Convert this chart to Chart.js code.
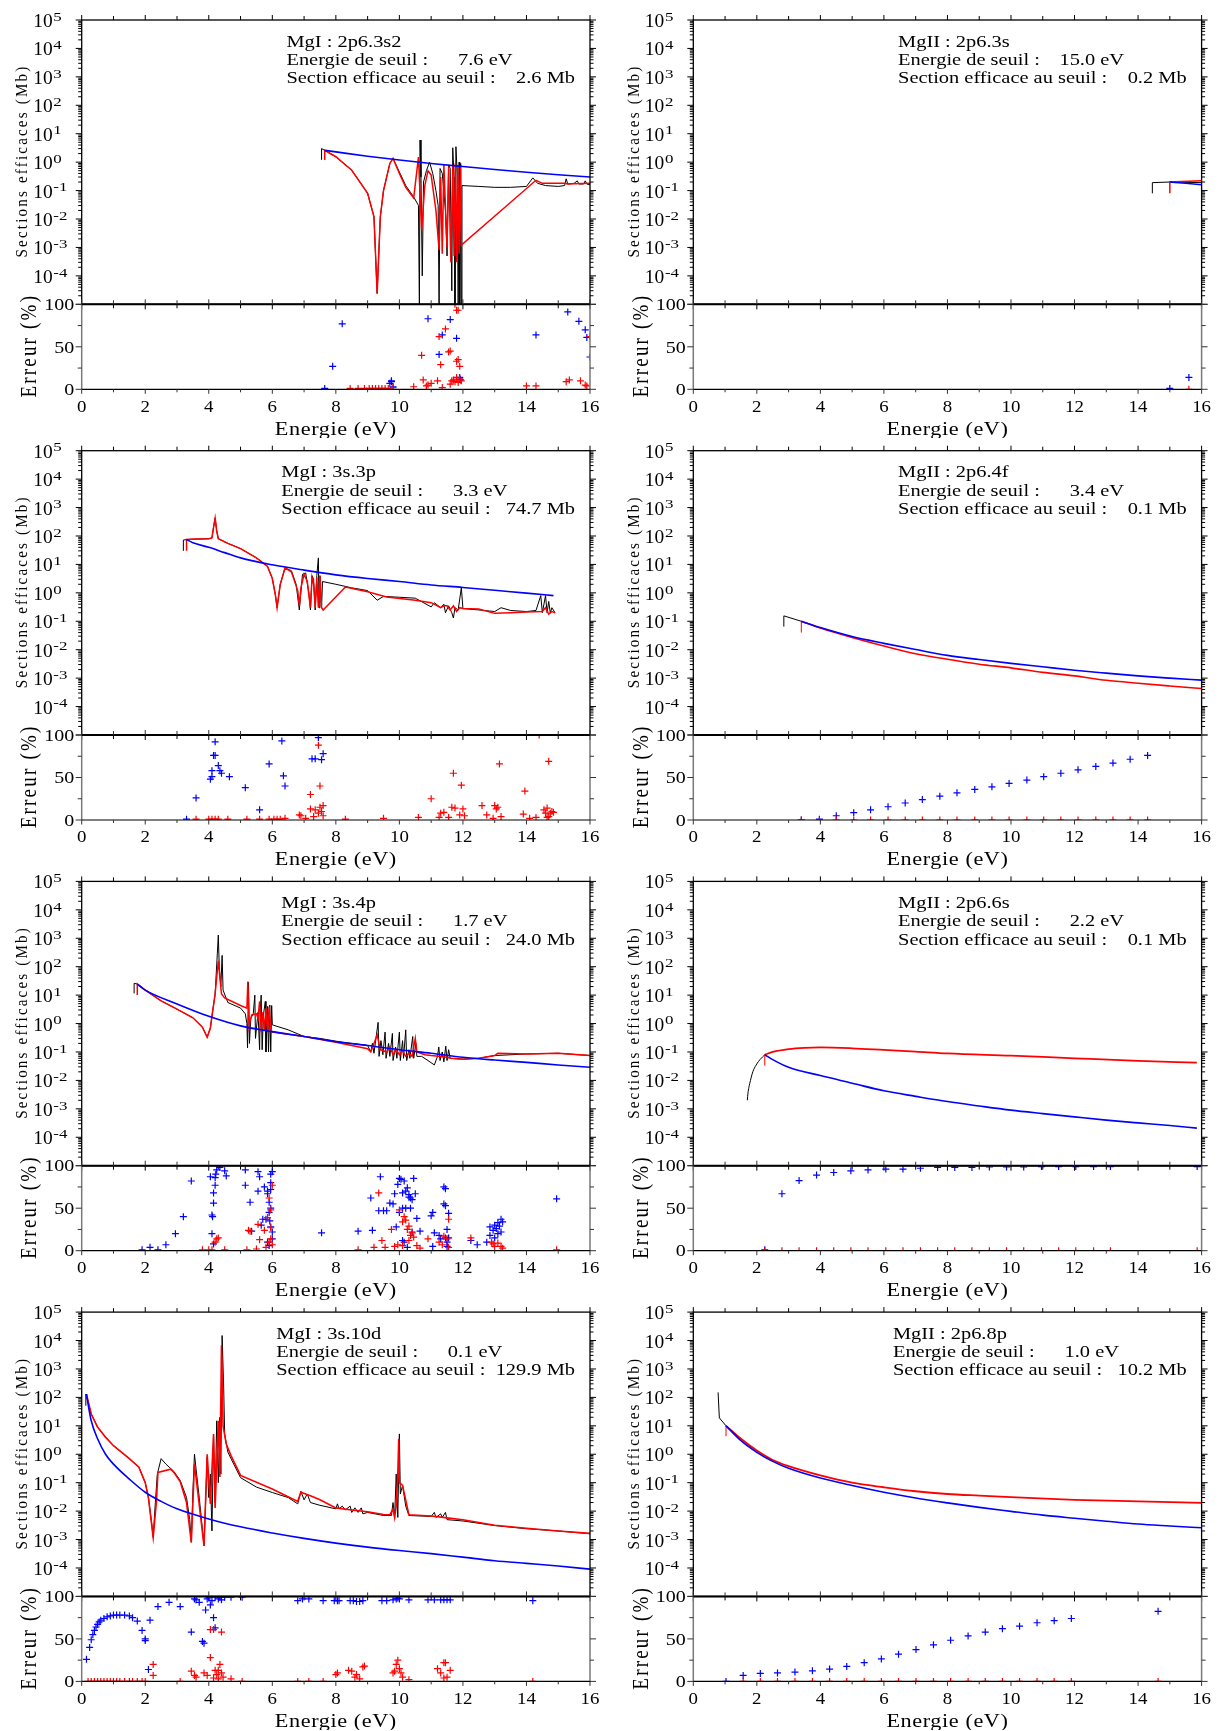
<!DOCTYPE html>
<html>
<head>
<meta charset="utf-8">
<title>Sections efficaces de photoionisation Mg I / Mg II</title>
<script src="https://cdn.jsdelivr.net/npm/chart.js@4.4.1/dist/chart.umd.min.js"></script>
<style>
  html, body { margin: 0; background: #fff; }
  #page { position: relative; width: 1222px; height: 1731px; overflow: hidden; }
  canvas { position: absolute; }
</style>
</head>
<body>
<div id="page"></div>
<script>
// ---- panel headers ----
const panelLabels = ["MgI : 2p6.3s2", "MgII : 2p6.3s", "MgI : 3s.3p", "MgII : 2p6.4f",
                     "MgI : 3s.4p", "MgII : 2p6.6s", "MgI : 3s.10d", "MgII : 2p6.8p"];
const thresholdEnergies = [7.6, 15.0, 3.3, 3.4, 1.7, 2.2, 0.1, 1.0];   // eV
const thresholdSections = [2.6, 0.2, 74.7, 0.1, 24.0, 0.1, 129.9, 10.2]; // Mb

// ---- axis ticks ----
const energyTicks = [0, 2, 4, 6, 8, 10, 12, 14, 16];
const decadeExponents = [5, 4, 3, 2, 1, 0, -1, -2, -3, -4];
const errorTicks = [0, 50, 100];

// ---- MgI 2p6.3s2 ----
const p1Black = [[7.55,1.2],[7.55,3.0],[7.65,2.6],[8.0,1.55],[8.5,0.52],[9.0,0.08],[9.2,0.012],[9.3,2.4e-5],[9.4,0.012],[9.5,0.1],[9.7,0.9],[9.8,1.35],[10.0,0.45],[10.2,0.15],[10.45,0.06],[10.6,0.03],[10.63,6e-6],[10.65,6.0],[10.68,0.3],[10.72,1e-4],[10.76,0.2],[10.85,0.5],[10.95,1.0],[11.05,0.4],[11.15,0.1],[11.22,0.03],[11.25,6e-6],[11.28,0.6],[11.35,0.4],[11.45,0.02],[11.5,5e-4],[11.55,0.8],[11.6,0.6],[11.65,3e-5],[11.68,3.2],[11.72,0.3],[11.75,6e-6],[11.78,3.5],[11.82,0.4],[11.85,6e-6],[11.88,1.0],[11.9,6e-6],[11.93,0.9],[11.95,6e-6],[11.97,0.15],[12.5,0.14],[13.0,0.13],[13.5,0.13],[14.0,0.14],[14.2,0.28],[14.35,0.18],[14.6,0.15],[15.0,0.14],[15.2,0.15],[15.25,0.26],[15.3,0.17],[15.5,0.18],[15.6,0.22],[15.65,0.17],[15.8,0.17],[15.85,0.22],[15.9,0.17],[16.0,0.16]];
const p1Red = [[7.65,1.2],[7.65,2.6],[8.0,1.55],[8.5,0.52],[9.0,0.08],[9.2,0.012],[9.3,2.4e-5],[9.4,0.012],[9.5,0.1],[9.7,0.9],[9.8,1.35],[10.0,0.4],[10.2,0.13],[10.45,0.055],[10.6,1.5],[10.7,4e-3],[10.8,0.15],[10.9,0.5],[11.0,0.35],[11.15,0.02],[11.25,8e-4],[11.3,0.3],[11.35,6e-4],[11.4,0.8],[11.5,1e-3],[11.55,0.7],[11.62,3e-4],[11.68,0.8],[11.72,5e-4],[11.76,0.9],[11.8,3e-4],[11.84,0.8],[11.88,6e-4],[11.92,0.7],[11.95,1.2e-3],[14.3,0.23],[14.5,0.18],[15.2,0.18],[15.3,0.17],[16.0,0.18]];
const p1Blue = [[7.65,2.6],[8,2.3],[9,1.62],[10,1.19],[11,0.9],[12,0.7],[13,0.55],[14,0.44],[15,0.36],[16,0.3]];
const p1ErrBlue = [[7.65,1],[7.9,27],[8.2,77],[9.7,7],[9.75,9],[9.75,10],[9.8,3],[10.9,83],[11.25,41],[11.35,64],[11.6,82],[11.8,60],[11.9,12],[11.9,14],[11.92,11],[14.3,64],[15.3,91],[15.65,80],[15.85,70],[15.9,61],[16.0,38]];
const p1ErrRed = [[8.45,1],[8.7,1],[8.9,1],[9.05,1],[9.15,1],[9.25,1],[9.35,1],[9.45,1],[9.55,1],[9.65,1],[9.8,2],[10.45,3],[10.7,40],[10.75,11],[10.85,4],[10.9,5],[11.0,7],[11.2,10],[11.25,62],[11.3,29],[11.35,2],[11.45,71],[11.55,44],[11.6,45],[11.65,10],[11.7,11],[11.75,100],[11.8,33],[11.8,93],[11.85,93],[11.85,35],[11.9,27],[11.85,8],[11.9,12],[11.95,10],[11.6,6],[11.8,14],[11.75,9],[14.0,4],[14.3,4],[15.25,9],[15.35,11],[15.7,10],[15.85,5],[15.9,4],[16.0,62]];

// ---- MgII 2p6.3s ----
const p2Black = [[14.45,0.08],[14.45,0.19],[15.0,0.2],[16.0,0.19]];
const p2Red = [[15.0,0.08],[15.0,0.2],[16.0,0.22]];
const p2Blue = [[15.0,0.2],[15.5,0.18],[16.0,0.16]];
const p2ErrBlue = [[15.0,1],[15.6,14]];
const p2ErrRed = [[15.6,0]];

// ---- MgI 3s.3p ----
const p3Black = [[3.2,30],[3.2,72],[3.3,75],[3.6,78],[4.0,80],[4.1,85],[4.15,200],[4.2,430],[4.25,150],[4.3,80],[4.6,55],[5.0,36],[5.5,17],[5.85,8.5],[6.0,3.2],[6.1,0.8],[6.15,0.3],[6.25,2.0],[6.4,7.5],[6.6,6],[6.75,2],[6.85,0.25],[6.95,4.5],[7.05,5],[7.15,1.0],[7.2,0.25],[7.25,4],[7.3,3],[7.35,0.25],[7.4,4],[7.45,17],[7.47,0.3],[7.5,4],[7.55,0.3],[7.58,2.5],[8.0,2.0],[8.5,1.5],[9.0,1.2],[9.3,0.55],[9.5,0.75],[10.0,0.7],[10.5,0.65],[11.0,0.32],[11.1,0.45],[11.3,0.3],[11.4,0.4],[11.45,0.2],[11.55,0.35],[11.65,0.2],[11.7,0.13],[11.75,0.3],[11.85,0.25],[11.95,1.5],[12.0,0.28],[12.5,0.25],[13.0,0.22],[13.2,0.3],[13.5,0.24],[14.0,0.22],[14.3,0.24],[14.45,0.8],[14.5,0.2],[14.6,0.8],[14.65,0.2],[14.7,0.5],[14.75,0.2],[14.8,0.3],[14.9,0.2]];
const p3Red = [[3.3,30],[3.3,75],[3.6,78],[4.0,80],[4.1,85],[4.15,200],[4.2,430],[4.25,150],[4.3,80],[4.6,55],[5.0,36],[5.5,17],[5.85,8.5],[6.0,3.2],[6.1,0.8],[6.15,0.3],[6.25,2.0],[6.4,7.5],[6.6,5.5],[6.8,1.2],[6.85,0.35],[6.9,1.5],[7.0,4.5],[7.1,2.5],[7.2,0.3],[7.25,3.5],[7.3,2],[7.35,0.3],[7.4,3.5],[7.45,0.3],[7.5,4],[7.55,0.3],[7.6,0.25],[8.3,1.6],[9.0,1.1],[9.6,0.72],[10.5,0.55],[11.0,0.45],[11.3,0.3],[11.4,0.35],[11.5,0.35],[11.6,0.25],[11.7,0.35],[11.8,0.22],[11.9,0.3],[12.0,0.28],[12.5,0.27],[13.0,0.19],[13.5,0.2],[14.0,0.21],[14.5,0.22],[14.6,0.3],[14.7,0.18],[14.8,0.22],[14.9,0.2]];
const p3Blue = [[3.3,75],[3.5,58],[4.0,40],[4.5,26],[5.0,17],[6.0,9.7],[7.0,6.3],[8.0,4.3],[9.0,3.2],[10.0,2.5],[11.0,1.9],[12.0,1.55],[13.0,1.23],[14.0,0.98],[14.85,0.8]];
const p3ErrBlue = [[3.3,1],[3.6,26],[4.05,48],[4.1,51],[4.1,58],[4.15,76],[4.2,76],[4.2,92],[4.3,64],[4.35,58],[4.4,55],[4.65,51],[5.15,38],[5.6,12],[5.9,66],[6.3,93],[6.35,52],[6.4,40],[7.25,72],[7.35,72],[7.45,97],[7.55,71],[7.6,78]];
const p3ErrRed = [[3.6,1],[4.0,1],[4.1,1],[4.2,1],[4.3,1],[4.6,1],[5.2,1],[5.6,1],[5.9,1],[6.05,1],[6.15,1],[6.25,1],[6.4,2],[6.85,6],[6.9,5],[7.05,2],[7.2,30],[7.2,13],[7.3,4],[7.35,12],[7.45,88],[7.45,8],[7.5,40],[7.5,15],[7.55,10],[7.6,17],[7.6,5],[8.3,1],[9.5,2],[10.6,3],[11.0,25],[11.25,3],[11.3,8],[11.4,9],[11.55,3],[11.65,15],[11.7,55],[11.75,14],[11.9,6],[11.95,41],[12.0,13],[12.05,5],[12.6,17],[12.75,6],[12.95,2],[13.0,17],[13.05,13],[13.1,15],[13.15,66],[13.2,4],[13.9,7],[13.95,34],[14.1,2],[14.3,3],[14.4,100],[14.55,12],[14.6,8],[14.65,14],[14.65,3],[14.7,69],[14.7,4],[14.75,8],[14.8,10],[14.85,9]];

// ---- MgII 2p6.4f ----
const p4Black = [[2.85,0.065],[2.85,0.155],[3.4,0.1]];
const p4RedTick = [[3.4,0.04],[3.4,0.1]];
const p4Red = [[3.4,0.1],[4,0.058],[5,0.027],[6,0.0135],[7,0.0072],[8,0.0046],[9,0.0031],[10,0.0023],[11,0.0016],[12,0.0012],[13,8.4e-4],[14,6.6e-4],[15,5.3e-4],[16,4.3e-4]];
const p4Blue = [[3.4,0.1],[4,0.06],[5,0.029],[6,0.0167],[7,0.0101],[8,0.0063],[9,0.0045],[10,0.0033],[11,0.0025],[12,0.0019],[13,0.0015],[14,0.0012],[15,0.001],[16,8.5e-4]];
const p4ErrBlue = [[3.4,0],[3.97,1],[4.5,5],[5.05,8.6],[5.58,12],[6.13,15.6],[6.67,20],[7.21,24],[7.76,28],[8.3,32],[8.86,36],[9.4,39],[9.94,43],[10.5,47],[11.03,51],[11.57,55],[12.11,59],[12.67,63],[13.21,67],[13.75,71.5],[14.3,76]];
const p4ErrRed = [[3.4,0],[3.97,0],[4.5,0],[5.05,0],[5.58,0],[6.13,0],[6.67,0],[7.21,0],[7.76,0],[8.3,0],[8.86,0],[9.4,0],[9.94,0],[10.5,0],[11.03,0],[11.57,0],[12.11,0],[12.67,0],[13.21,0],[13.75,0],[14.3,0]];

// ---- MgI 3s.4p ----
const p5Black = [[1.65,11.5],[1.65,26],[1.75,24.5],[2.0,15],[2.5,6.3],[3.0,3.2],[3.5,1.6],[3.8,0.75],[3.95,0.33],[4.05,0.7],[4.1,1.8],[4.2,11],[4.27,300],[4.3,1300],[4.33,100],[4.38,20],[4.42,250],[4.45,15],[4.6,5.5],[5.0,3.5],[5.15,2.2],[5.2,1.0],[5.22,0.14],[5.25,28],[5.28,0.2],[5.32,1.5],[5.4,2.2],[5.45,10],[5.47,0.3],[5.55,2.5],[5.6,0.12],[5.62,3],[5.65,10],[5.68,0.12],[5.72,2],[5.78,6],[5.8,0.1],[5.85,4],[5.88,0.1],[5.92,4.5],[5.95,0.1],[5.98,4.3],[6.0,0.9],[6.5,0.6],[7.0,0.35],[7.5,0.3],[8.0,0.24],[8.5,0.2],[9.0,0.17],[9.1,0.1],[9.15,0.2],[9.2,0.09],[9.33,1.1],[9.36,0.07],[9.42,0.25],[9.48,0.08],[9.55,0.5],[9.58,0.06],[9.66,0.2],[9.7,0.07],[9.78,0.45],[9.8,0.05],[9.88,0.15],[9.92,0.06],[10.0,0.5],[10.03,0.05],[10.1,0.25],[10.13,0.06],[10.2,0.6],[10.23,0.05],[10.3,0.12],[10.33,0.06],[10.42,0.35],[10.45,0.06],[10.52,0.2],[10.55,0.07],[10.7,0.07],[10.9,0.05],[11.1,0.035],[11.2,0.07],[11.24,0.15],[11.28,0.05],[11.35,0.1],[11.4,0.045],[11.46,0.16],[11.5,0.05],[11.55,0.12],[11.6,0.06],[12.0,0.056],[12.5,0.06],[13.0,0.075],[14.0,0.085],[15.0,0.09],[16.0,0.075]];
const p5Red = [[1.75,10],[1.75,24.5],[2.0,15],[2.5,6.3],[3.0,3.2],[3.5,1.6],[3.8,0.75],[3.95,0.33],[4.05,0.7],[4.1,1.8],[4.2,11],[4.3,160],[4.4,11],[4.5,8],[5.0,4.3],[5.2,3.5],[5.23,30],[5.27,0.8],[5.3,1.2],[5.35,2.0],[5.5,2.2],[5.55,1.5],[5.6,6],[5.65,0.5],[5.7,2.5],[5.75,0.6],[5.8,3.5],[5.85,0.5],[5.9,4],[5.95,0.6],[6.0,0.5],[7.0,0.35],[8.0,0.22],[9.0,0.13],[9.1,0.1],[9.3,0.4],[9.4,0.12],[9.6,0.1],[9.7,0.15],[9.8,0.08],[9.9,0.12],[10.0,0.08],[10.1,0.11],[10.2,0.07],[10.3,0.09],[10.4,0.07],[10.5,0.3],[10.55,0.1],[10.8,0.08],[11.0,0.075],[11.3,0.07],[11.5,0.065],[11.6,0.06],[12.0,0.056],[12.5,0.06],[13.0,0.075],[13.1,0.09],[14.0,0.085],[15.0,0.09],[16.0,0.075]];
const p5Blue = [[1.75,24.5],[2,15],[3,4.9],[4,1.8],[5,0.83],[6,0.52],[7,0.35],[8,0.23],[9,0.17],[10,0.12],[11,0.09],[12,0.065],[13,0.052],[14,0.043],[15,0.035],[16,0.029]];
const p5ErrBlue = [[1.9,1],[2.15,4],[2.4,1],[2.65,7],[2.95,20],[3.2,40],[3.45,82],[4.05,87],[4.1,42],[4.12,40],[4.15,56],[4.15,68],[4.2,77],[4.2,86],[4.22,90],[4.25,95],[4.3,100],[4.35,98],[4.5,94],[4.55,88],[4.1,20],[4.15,8],[5.15,95],[5.15,77],[5.3,57],[5.35,23],[5.55,93],[5.6,87],[5.55,70],[5.65,30],[5.7,37],[5.75,75],[5.8,37],[5.85,67],[5.85,70],[5.9,45],[5.95,90],[5.95,80],[5.95,72],[6.0,93],[5.9,57],[5.95,50],[5.92,35],[5.95,28],[6.0,22],[6.0,14],[5.85,10],[5.9,6],[7.55,21],[8.7,23],[9.1,62],[9.15,24],[9.4,87],[9.35,47],[9.5,47],[9.6,47],[9.7,56],[9.8,55],[9.85,67],[9.9,28],[9.95,78],[10.0,85],[10.05,84],[10.15,82],[10.1,68],[10.2,70],[10.25,74],[10.3,63],[10.35,62],[10.35,50],[10.4,60],[10.45,85],[10.5,67],[10.2,50],[10.1,50],[10.55,38],[10.65,23],[10.3,66],[10.15,10],[10.25,4],[10.0,45],[10.1,12],[10.4,22],[11.0,41],[11.05,45],[11.1,21],[11.05,5],[11.25,18],[11.3,14],[11.4,75],[11.45,73],[11.4,55],[11.45,53],[11.55,44],[11.45,15],[11.5,10],[11.55,15],[11.5,25],[11.5,5],[12.25,12],[12.45,7],[12.75,10],[12.85,18],[12.85,28],[12.95,24],[13.0,30],[13.05,26],[13.1,33],[13.15,29],[13.2,37],[13.25,34],[13.2,22],[13.1,20],[13.0,15],[14.95,61]];
const p5ErrRed = [[3.8,1],[4.0,1],[4.1,1],[4.2,10],[4.25,14],[4.3,15],[4.5,1],[5.2,1],[5.25,24],[5.3,23],[5.5,2],[5.55,31],[5.6,13],[5.75,24],[5.8,4],[5.85,39],[5.9,62],[5.9,10],[5.95,48],[5.95,27],[5.95,14],[6.0,77],[6.0,7],[8.7,1],[9.2,4],[9.35,68],[9.45,12],[9.55,4],[9.75,25],[9.85,5],[9.95,7],[10.0,48],[10.1,34],[10.1,6],[10.15,40],[10.2,36],[10.25,25],[10.3,29],[10.3,12],[10.35,18],[10.4,21],[10.45,16],[10.55,6],[10.65,3],[10.9,14],[11.25,10],[11.35,7],[11.4,17],[11.5,14],[11.55,37],[11.55,4],[12.25,15],[12.9,10],[12.95,8],[13.0,5],[13.1,9],[13.2,5],[13.25,3],[14.95,1]];

// ---- MgII 2p6.6s ----
const p6Black = [[1.7,0.002],[1.72,0.0035],[1.75,0.0057],[1.8,0.01],[1.85,0.0166],[1.9,0.024],[2.0,0.038],[2.1,0.054],[2.25,0.08]];
const p6RedTick = [[2.25,0.033],[2.25,0.08]];
const p6Red = [[2.25,0.08],[2.5,0.1],[3.0,0.126],[3.5,0.14],[4.0,0.145],[5.0,0.135],[6.0,0.118],[7.0,0.103],[8.0,0.089],[10.0,0.074],[12.0,0.06],[14.0,0.049],[15.85,0.042]];
const p6Blue = [[2.25,0.08],[2.5,0.054],[3.0,0.029],[4.0,0.0148],[5.0,0.008],[6.0,0.0043],[7.0,0.00275],[8.0,0.0018],[9.0,0.00126],[10.0,9e-4],[11.0,6.8e-4],[12.0,5.2e-4],[13.0,4e-4],[14.0,3.2e-4],[15.0,2.6e-4],[15.85,2.1e-4]];
const p6ErrBlue = [[2.25,1],[2.79,67],[3.33,82.5],[3.88,89],[4.42,92],[4.96,94],[5.5,95],[6.06,96],[6.6,96],[7.15,97],[7.69,98],[8.23,98],[8.77,98],[9.32,98.5],[9.86,98.5],[10.4,98.5],[10.96,99],[11.5,99],[12.04,99],[12.6,99],[13.13,99],[15.86,99]];
const p6ErrRed = [[2.25,0],[2.79,0],[3.33,0],[3.88,0],[4.42,0],[4.96,0],[5.5,0],[6.06,0],[6.6,0],[7.15,0],[7.69,0],[8.23,0],[8.77,0],[9.32,0],[9.86,0],[10.4,0],[10.96,0],[11.5,0],[12.04,0],[12.6,0],[13.13,0],[15.86,0]];

// ---- MgI 3s.10d ----
const p7Black = [[0.13,51],[0.13,130],[0.3,26],[0.5,9],[0.75,4],[1.0,2],[1.5,0.7],[1.8,0.35],[2.0,0.1],[2.1,0.03],[2.2,0.004],[2.25,0.0012],[2.3,0.01],[2.38,0.2],[2.5,0.7],[2.65,0.45],[2.9,0.25],[3.1,0.12],[3.3,0.03],[3.4,0.005],[3.45,8e-4],[3.5,0.05],[3.55,1.0],[3.6,0.3],[3.7,0.03],[3.85,6e-4],[3.9,0.02],[3.95,0.8],[4.0,0.03],[4.05,0.2],[4.1,2e-3],[4.15,5],[4.2,0.02],[4.25,15],[4.3,0.1],[4.35,20],[4.38,0.2],[4.42,15000],[4.47,200],[4.5,5],[4.6,1.2],[4.7,0.7],[5.0,0.15],[5.5,0.07],[6.0,0.045],[6.5,0.03],[6.8,0.018],[6.9,0.05],[7.0,0.025],[7.1,0.04],[7.2,0.02],[7.5,0.016],[8.0,0.012],[8.05,0.018],[8.1,0.012],[8.2,0.015],[8.3,0.011],[8.45,0.015],[8.5,0.009],[8.6,0.013],[8.7,0.009],[8.8,0.013],[8.85,0.008],[9.0,0.009],[9.5,0.007],[9.75,0.007],[9.8,0.02],[9.85,0.006],[9.9,0.2],[9.95,0.006],[10.0,5.2],[10.03,0.04],[10.1,0.08],[10.2,0.015],[10.3,0.007],[11.0,0.0065],[11.1,0.009],[11.15,0.006],[11.3,0.008],[11.35,0.006],[11.45,0.009],[11.5,0.005],[12.0,0.0045],[13.0,0.0031],[14.0,0.0024],[15.0,0.002],[16.0,0.0016]];
const p7Red = [[0.15,130],[0.3,26],[0.5,9],[0.75,4],[1.0,2],[1.5,0.7],[1.8,0.35],[2.0,0.1],[2.1,0.03],[2.25,0.0012],[2.35,0.02],[2.4,0.23],[2.8,0.3],[2.9,0.23],[3.1,0.11],[3.3,0.02],[3.45,8e-4],[3.55,0.45],[3.65,0.05],[3.85,6e-4],[3.95,1.0],[4.05,0.018],[4.15,5],[4.2,0.013],[4.3,15],[4.35,0.16],[4.4,6800],[4.45,10],[4.55,2.3],[4.7,0.9],[5.0,0.18],[6.0,0.06],[6.8,0.022],[6.9,0.046],[7.2,0.035],[7.5,0.025],[8.0,0.013],[8.5,0.011],[9.0,0.0095],[9.5,0.0076],[9.7,0.0074],[9.8,0.012],[9.85,0.006],[9.9,0.015],[9.95,0.2],[9.98,3.5],[10.0,0.1],[10.1,0.08],[10.3,0.0074],[11.0,0.0067],[11.5,0.0058],[12.0,0.005],[13.0,0.0032],[14.0,0.0025],[15.0,0.002],[16.0,0.00165]];
const p7Blue = [[0.15,130],[0.2,59],[0.3,15],[0.5,3.5],[0.75,1.0],[1.0,0.45],[1.5,0.134],[2.0,0.046],[2.5,0.022],[3.0,0.012],[4.0,0.0053],[5.0,0.0028],[6.0,0.0017],[7.0,0.0011],[8.0,7.5e-4],[9.0,5.4e-4],[10.0,4.1e-4],[11.0,3.2e-4],[12.0,2.4e-4],[13.0,1.8e-4],[14.0,1.45e-4],[15.0,1.17e-4],[16.0,9.1e-5]];
const p7ErrBlue = [[0.15,26],[0.25,40],[0.3,49],[0.35,55],[0.4,60],[0.45,64],[0.5,67],[0.55,70],[0.6,72],[0.7,74],[0.8,76],[0.9,77],[1.0,78],[1.1,78],[1.2,78],[1.35,78],[1.5,77],[1.6,75],[1.75,71],[1.9,60],[2.0,50],[2.0,48],[2.1,14],[2.15,72],[2.4,88],[2.75,93],[3.1,88],[3.45,58],[3.55,97],[3.6,96],[3.7,93],[3.8,47],[3.85,45],[3.9,84],[3.95,97],[4.0,99],[4.05,90],[4.1,95],[4.15,75],[4.2,63],[4.2,99],[4.3,97],[4.35,99],[4.4,96],[4.5,99],[4.7,99],[5.05,99],[6.8,95],[6.95,97],[7.15,97],[7.6,95],[7.95,95],[8.05,95],[8.1,95],[8.45,95],[8.55,95],[8.65,94],[8.75,94],[8.85,95],[9.45,95],[9.6,95],[9.8,96],[9.9,97],[9.95,98],[10.0,97],[10.3,96],[10.9,96],[11.1,96],[11.3,96],[11.4,96],[11.5,96],[11.6,96],[14.2,95]];
const p7ErrRed = [[0.2,0],[0.3,0],[0.4,0],[0.5,0],[0.6,0],[0.7,0],[0.8,0],[0.9,0],[1.0,0],[1.1,0],[1.2,0],[1.35,0],[1.5,0],[1.6,0],[1.75,0],[1.9,0],[2.0,0],[2.25,20],[2.25,7],[3.1,0],[3.45,12],[3.55,7],[3.6,5],[3.85,10],[3.95,7],[4.05,61],[4.05,28],[4.15,61],[4.15,4],[4.2,13],[4.25,8],[4.3,13],[4.3,3],[4.35,20],[4.4,10],[4.4,58],[4.45,5],[4.7,3],[5.05,0],[6.8,0],[7.15,0],[7.6,0],[8.0,8],[8.05,10],[8.4,13],[8.5,12],[8.6,5],[8.65,8],[8.75,3],[8.85,17],[8.9,18],[9.8,10],[9.85,12],[9.9,20],[9.95,25],[10.0,15],[10.05,10],[10.1,5],[10.3,2],[11.2,15],[11.3,10],[11.4,22],[11.45,22],[11.4,4],[11.5,5],[11.6,13],[14.2,0]];

// ---- MgII 2p6.8p ----
const p8Black = [[0.78,150],[0.82,19],[1.03,10]];
const p8RedTick = [[1.03,4.3],[1.03,10]];
const p8Red = [[1.03,10],[1.5,3.5],[2,1.35],[2.5,0.63],[3,0.38],[4,0.18],[5,0.1],[6,0.069],[7,0.05],[8,0.04],[9,0.035],[10,0.031],[12,0.025],[14,0.022],[16,0.0195]];
const p8Blue = [[1.03,10],[1.5,3.0],[2,1.17],[2.5,0.56],[3,0.32],[4,0.145],[5,0.079],[6,0.046],[7,0.029],[8,0.0195],[9,0.0135],[10,0.0098],[11,0.0072],[12,0.0056],[13,0.0044],[14,0.0035],[15,0.003],[16,0.0026]];
const p8ErrBlue = [[1.03,0],[1.57,7],[2.11,9.4],[2.65,10],[3.2,11],[3.75,12.5],[4.29,14.5],[4.83,17.6],[5.38,22],[5.92,26.5],[6.46,32],[7.01,37.5],[7.56,43],[8.1,48.4],[8.65,53.5],[9.19,58],[9.73,62],[10.27,65],[10.82,69],[11.36,71.5],[11.9,74],[14.63,82.5]];
const p8ErrRed = [[1.57,0],[2.11,0],[2.65,0],[3.2,0],[3.75,0],[4.29,0],[4.83,0],[5.38,0],[5.92,0],[6.46,0],[7.01,0],[7.56,0],[8.1,0],[8.65,0],[9.19,0],[9.73,0],[10.27,0],[10.82,0],[11.36,0],[11.9,0],[14.63,0]];

// ---- layout ----
const SERIF = '"Liberation Serif", "Times New Roman", serif';
const PLOT_W = 508.3, LOG_H = 284.3, ERR_H = 85, ROW_PITCH = 430.7, FIRST_TOP = 20;
const COL_PLOT_LEFT = [81.7, 693.3];
const CANVAS_W = 610;

const BLUE = '#0000ff', RED = '#ff0000', BLACK = '#000000';

// line series per panel, first entry is drawn on top
const panelLines = [
  [[p1Blue, BLUE, 1.6, true], [p1Red, RED, 1.5, false], [p1Black, BLACK, 1, false]],
  [[p2Blue, BLUE, 1.6, true], [p2Red, RED, 1.5, false], [p2Black, BLACK, 1, false]],
  [[p3Blue, BLUE, 1.6, true], [p3Red, RED, 1.5, false], [p3Black, BLACK, 1, false]],
  [[p4Blue, BLUE, 1.6, true], [p4Red, RED, 1.6, true], [p4RedTick, RED, 1, false], [p4Black, BLACK, 1, false]],
  [[p5Blue, BLUE, 1.6, true], [p5Red, RED, 1.5, false], [p5Black, BLACK, 1, false]],
  [[p6Blue, BLUE, 1.6, true], [p6Red, RED, 1.8, true], [p6RedTick, RED, 1, false], [p6Black, BLACK, 1, true]],
  [[p7Blue, BLUE, 1.6, true], [p7Red, RED, 1.6, false], [p7Black, BLACK, 1, false]],
  [[p8Blue, BLUE, 1.6, true], [p8Red, RED, 1.8, true], [p8RedTick, RED, 1, false], [p8Black, BLACK, 1, false]]
];
const panelErrors = [
  [p1ErrRed, p1ErrBlue], [p2ErrRed, p2ErrBlue], [p3ErrRed, p3ErrBlue], [p4ErrRed, p4ErrBlue],
  [p5ErrRed, p5ErrBlue], [p6ErrRed, p6ErrBlue], [p7ErrRed, p7ErrBlue], [p8ErrRed, p8ErrBlue]
];

function stretchText(ctx, s, x, y, sx, align) {
  ctx.save();
  ctx.translate(x, y);
  ctx.scale(sx, 1);
  ctx.textAlign = align;
  ctx.fillText(s, 0, 0);
  ctx.restore();
}

function verticalText(ctx, s, x, y, sy, spacing) {
  ctx.save();
  ctx.translate(x, y);
  ctx.rotate(-Math.PI / 2);
  ctx.scale(1, sy);
  ctx.textAlign = 'center';
  ctx.textBaseline = 'middle';
  ctx.letterSpacing = spacing + 'px';
  ctx.fillText(s, spacing / 2, 0);
  ctx.restore();
}

function drawLogFrame(chart, panel) {
  const { ctx, chartArea: a } = chart;
  const x = chart.scales.x, y = chart.scales.y;
  ctx.strokeStyle = '#000';
  ctx.lineWidth = 1.3;
  ctx.strokeRect(a.left, a.top, a.right - a.left, a.bottom - a.top);

  ctx.lineWidth = 1;
  ctx.beginPath();
  for (let e = 0; e <= 16; e++) {
    const px = x.getPixelForValue(e);
    const len = e % 2 === 0 ? 5 : 4;
    ctx.moveTo(px, a.top); ctx.lineTo(px, a.top - len);
    ctx.moveTo(px, a.bottom); ctx.lineTo(px, a.bottom + len);
  }
  for (let d = -5; d <= 5; d++) {
    const py = y.getPixelForValue(Math.pow(10, d));
    ctx.moveTo(a.left - 6, py); ctx.lineTo(a.left, py);
    ctx.moveTo(a.right, py); ctx.lineTo(a.right + 6, py);
    if (d === 5) continue;
    for (let m = 2; m <= 9; m++) {
      const pm = y.getPixelForValue(m * Math.pow(10, d));
      ctx.moveTo(a.left - 3.5, pm); ctx.lineTo(a.left, pm);
      ctx.moveTo(a.right, pm); ctx.lineTo(a.right + 3.5, pm);
    }
  }
  ctx.stroke();

  ctx.fillStyle = '#000';
  ctx.textBaseline = 'alphabetic';
  decadeExponents.forEach(d => {
    const py = y.getPixelForValue(Math.pow(10, d));
    ctx.font = '18px ' + SERIF;
    stretchText(ctx, '10', a.left - 48.5, py + 7, 1.08, 'left');
    ctx.font = '13px ' + SERIF;
    stretchText(ctx, String(d), a.left - 28.4, py + 0.7, 1.3, 'left');
  });

  ctx.font = '15px ' + SERIF;
  verticalText(ctx, 'Sections efficaces (Mb)', a.left - 59.3, (a.top + a.bottom) / 2, 1.17, 2.2);

  // threshold annotation
  ctx.font = '17px ' + SERIF;
  ctx.textBaseline = 'alphabetic';
  const sx = 1.2;
  const right = a.left + 493.3;
  const line3 = 'Section efficace au seuil :  ' + thresholdSections[panel].toFixed(1).padStart(5, ' ') + ' Mb';
  const left = right - ctx.measureText(line3).width * sx;
  stretchText(ctx, panelLabels[panel], left, a.top + 26.7, sx, 'left');
  stretchText(ctx, 'Energie de seuil :', left, a.top + 45, sx, 'left');
  stretchText(ctx, thresholdEnergies[panel].toFixed(1) + ' eV', left + 226, a.top + 45, sx, 'right');
  stretchText(ctx, 'Section efficace au seuil :', left, a.top + 63.3, sx, 'left');
  stretchText(ctx, thresholdSections[panel].toFixed(1) + ' Mb', right, a.top + 63.3, sx, 'right');
}

function drawErrFrame(chart, panel) {
  const { ctx, chartArea: a } = chart;
  const x = chart.scales.x, y = chart.scales.y;

  ctx.strokeStyle = '#7a7a7a';
  ctx.lineWidth = 1.5;
  ctx.beginPath();
  ctx.moveTo(a.left, a.top); ctx.lineTo(a.left, a.bottom);
  ctx.moveTo(a.right, a.top); ctx.lineTo(a.right, a.bottom);
  ctx.stroke();

  ctx.strokeStyle = '#000';
  ctx.lineWidth = 2;
  ctx.beginPath();
  ctx.moveTo(a.left, a.top); ctx.lineTo(a.right, a.top);
  ctx.stroke();
  ctx.lineWidth = 1.2;
  ctx.beginPath();
  ctx.moveTo(a.left, a.bottom); ctx.lineTo(a.right, a.bottom);
  ctx.stroke();

  ctx.lineWidth = 1;
  ctx.strokeStyle = '#333';
  ctx.beginPath();
  [0, 25, 50, 75, 100].forEach(v => {
    const py = y.getPixelForValue(v);
    const len = v % 50 === 0 ? 6 : 4;
    ctx.moveTo(a.left - len, py); ctx.lineTo(a.left, py);
    ctx.moveTo(a.right, py); ctx.lineTo(a.right + len, py);
  });
  for (let e = 0; e <= 16; e++) {
    const px = x.getPixelForValue(e);
    const even = e % 2 === 0;
    ctx.moveTo(px, a.top); ctx.lineTo(px, a.top - (even ? 5 : 4));
    ctx.moveTo(px, a.bottom); ctx.lineTo(px, a.bottom + (even ? 4.5 : 3));
  }
  ctx.stroke();

  ctx.fillStyle = '#000';
  ctx.textBaseline = 'alphabetic';
  ctx.font = '16px ' + SERIF;
  errorTicks.forEach(v => {
    stretchText(ctx, String(v), a.left - 7.5, y.getPixelForValue(v) + 5.7, 1.25, 'right');
  });
  energyTicks.forEach(e => {
    stretchText(ctx, String(e), x.getPixelForValue(e), a.bottom + 22.4, 1.18, 'center');
  });

  ctx.font = '19px ' + SERIF;
  ctx.letterSpacing = '0.5px';
  stretchText(ctx, 'Energie (eV)', (a.left + a.right) / 2, a.bottom + 45.2, 1.17, 'center');
  ctx.letterSpacing = '0px';

  verticalText(ctx, 'Erreur (%)', a.left - 51.5, (a.top + a.bottom) / 2, 1.17, 2.2);
}

const framePlugin = {
  id: 'frame',
  afterDraw(chart, args, opts) {
    chart.ctx.save();
    if (opts.kind === 'log') drawLogFrame(chart, opts.panel);
    else drawErrFrame(chart, opts.panel);
    chart.ctx.restore();
  }
};

function lineSet([data, color, width, smooth]) {
  return {
    data: data.map(([x, y]) => ({ x, y })),
    showLine: true,
    borderColor: color,
    borderWidth: width,
    pointRadius: 0,
    fill: false,
    clip: 0,
    tension: 0,
    cubicInterpolationMode: smooth ? 'monotone' : 'default'
  };
}

function crossSet(data, color) {
  return {
    data: data.map(([x, y]) => ({ x, y })),
    showLine: false,
    pointStyle: 'cross',
    pointRadius: 3.5,
    pointBorderColor: color,
    pointBorderWidth: 1.2,
    borderColor: color,
    clip: 0
  };
}

function makeCanvas(left, top, w, h) {
  const c = document.createElement('canvas');
  c.width = w; c.height = h;
  c.style.left = left + 'px';
  c.style.top = top + 'px';
  c.style.width = w + 'px';
  c.style.height = h + 'px';
  document.getElementById('page').appendChild(c);
  return c;
}

function baseOptions(padding, yScale, kind, panel) {
  return {
    responsive: false,
    animation: false,
    events: [],
    layout: { padding },
    plugins: { legend: { display: false }, tooltip: { enabled: false }, frame: { kind, panel } },
    scales: {
      x: { type: 'linear', min: 0, max: 16, display: false },
      y: Object.assign({ display: false }, yScale)
    }
  };
}

panelLabels.forEach((label, i) => {
  const col = i % 2, row = Math.floor(i / 2);
  const rowTop = FIRST_TOP + row * ROW_PITCH;
  const canvasLeft = col * 612;
  const padLeft = COL_PLOT_LEFT[col] - canvasLeft;
  const padRight = CANVAS_W - padLeft - PLOT_W;

  // cross sections, log scale
  const logTop = Math.round(rowTop - 20), logH = 318;
  const logPadTop = rowTop - logTop;
  new Chart(makeCanvas(canvasLeft, logTop, CANVAS_W, logH), {
    type: 'scatter',
    data: { datasets: panelLines[i].map(lineSet) },
    options: baseOptions(
      { left: padLeft, right: padRight, top: logPadTop, bottom: logH - logPadTop - LOG_H },
      { type: 'logarithmic', min: 1e-5, max: 1e5 }, 'log', i),
    plugins: [framePlugin]
  });

  // relative error, linear scale
  const errEdge = rowTop + LOG_H;
  const errTop = Math.round(errEdge - 16), errH = 150;
  const errPadTop = errEdge - errTop;
  const [redErr, blueErr] = panelErrors[i];
  new Chart(makeCanvas(canvasLeft, errTop, CANVAS_W, errH), {
    type: 'scatter',
    data: { datasets: [crossSet(redErr, RED), crossSet(blueErr, BLUE)] },
    options: baseOptions(
      { left: padLeft, right: padRight, top: errPadTop, bottom: errH - errPadTop - ERR_H },
      { type: 'linear', min: 0, max: 100 }, 'err', i),
    plugins: [framePlugin]
  });
});
</script>
</body>
</html>
